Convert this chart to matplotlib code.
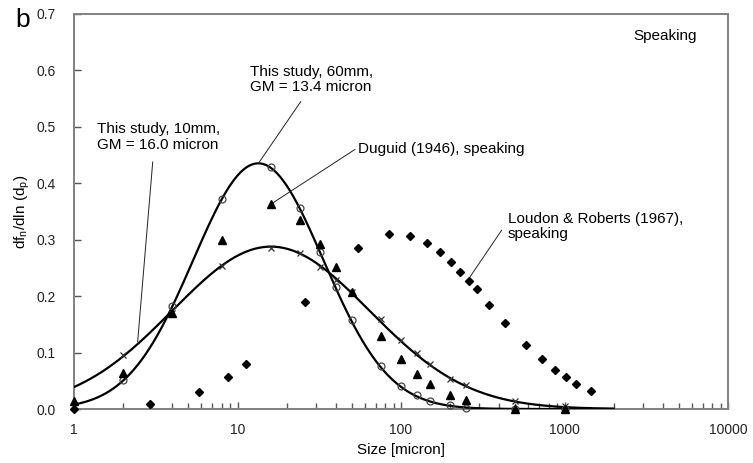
import numpy as np
import matplotlib
matplotlib.use("Agg")
import matplotlib.pyplot as plt
from matplotlib.ticker import FixedLocator, LogLocator, NullFormatter

plt.rcParams['font.family'] = ['Liberation Sans', 'DejaVu Sans']
plt.rcParams['mathtext.fontset'] = 'custom'
plt.rcParams['mathtext.rm'] = 'Liberation Sans'

# bin sizes (micron) and measured distributions, this study
size_study = [2, 4, 8, 16, 24, 32, 40, 50, 75, 100, 125, 150, 200, 250, 500, 1000]
study_10mm = [0.095, 0.170, 0.253, 0.286, 0.276, 0.251, 0.229, 0.207, 0.159,
              0.122, 0.099, 0.079, 0.054, 0.043, 0.015, 0.006]
study_60mm = [0.051, 0.182, 0.372, 0.429, 0.357, 0.279, 0.216, 0.158, 0.076,
              0.041, 0.025, 0.014, 0.007, 0.002, 0.0, 0.0]

# Duguid (1946)
size_duguid = [1, 2, 4, 8, 16, 24, 32, 40, 50, 75, 100, 125, 150, 200, 250, 500, 1000]
duguid = [0.015, 0.063, 0.170, 0.300, 0.363, 0.335, 0.292, 0.251, 0.207, 0.129,
          0.088, 0.062, 0.044, 0.025, 0.016, 0.0, 0.0]

# Loudon & Roberts (1967)
size_loudon = [1, 2.9, 5.8, 8.7, 11.2, 25.9, 54.8, 84.5, 114, 144, 173, 201, 230,
               259, 290, 347, 434, 579, 731, 875, 1021, 1170, 1452]
loudon = [0.0, 0.009, 0.030, 0.056, 0.079, 0.189, 0.286, 0.310, 0.307, 0.295, 0.278,
          0.260, 0.243, 0.227, 0.213, 0.184, 0.153, 0.113, 0.088, 0.069, 0.056,
          0.045, 0.032]

# lognormal fits: geometric mean and geometric std dev
gm_10mm, gsd_10mm = 16.0, 4.0
gm_60mm, gsd_60mm = 13.4, 2.5


def lognormal(d, gm, gsd):
    ls = np.log(gsd)
    return np.exp(-(np.log(d / gm)) ** 2 / (2 * ls ** 2)) / (np.sqrt(2 * np.pi) * ls)


fig = plt.figure(figsize=(7.53, 4.63), dpi=100)
ax = fig.add_axes([0.0983, 0.1166, 0.8685, 0.8532])

d = np.logspace(0, np.log10(2000), 400)
ax.plot(d, lognormal(d, gm_10mm, gsd_10mm), color='black', lw=1.6, zorder=3)
ax.plot(d, lognormal(d, gm_60mm, gsd_60mm), color='black', lw=1.6, zorder=3)

ax.plot(size_study, study_10mm, ls='none', marker='x', ms=5, mec='#333333',
        mew=0.9, clip_on=False, zorder=4)
ax.plot(size_study, study_60mm, ls='none', marker='o', ms=5, mfc='none',
        mec='#444444', mew=0.9, clip_on=False, zorder=4)
ax.plot(size_duguid, duguid, ls='none', marker='^', ms=6, color='black',
        clip_on=False, zorder=5)
ax.plot(size_loudon, loudon, ls='none', marker='D', ms=4.3, color='black',
        clip_on=False, zorder=5)

ax.set_xscale('log')
ax.set_xlim(1, 10000)
ax.set_ylim(0, 0.7)
ax.yaxis.set_major_locator(FixedLocator(np.arange(0, 0.71, 0.1)))
ax.set_yticklabels(['%.1f' % v for v in np.arange(0, 0.71, 0.1)])
ax.xaxis.set_major_locator(FixedLocator([1, 10, 100, 1000, 10000]))
ax.set_xticklabels(['1', '10', '100', '1000', '10000'])
ax.xaxis.set_minor_locator(LogLocator(base=10, subs=np.arange(2, 10)))
ax.xaxis.set_minor_formatter(NullFormatter())

ax.tick_params(axis='both', which='both', direction='in', color='#555555',
               labelsize=10, labelcolor='#222222', top=False, right=False)
ax.tick_params(axis='both', which='major', length=5, width=1)
ax.tick_params(axis='x', which='minor', length=4, width=1)
ax.tick_params(axis='y', which='major', pad=13)
ax.tick_params(axis='x', which='major', pad=10)

for sp in ax.spines.values():
    sp.set_color('#808080')
    sp.set_linewidth(1.4)

ax.set_xlabel('Size [micron]', fontsize=11)
ax.set_ylabel(r'df$_\mathregular{n}$/dln (d$_\mathregular{p}$)', fontsize=11)
ax.xaxis.set_label_coords(0.5, -0.086)
ax.yaxis.set_label_coords(-0.064, 0.5)

line = dict(arrowstyle='-', color='#222222', lw=0.7, shrinkA=0, shrinkB=0)
ax.text(1.377, 0.482, 'This study, 10mm,\nGM = 16.0 micron', fontsize=11,
        ha='left', va='center', linespacing=1.1)
ax.annotate('', xy=(2.45, 0.119), xytext=(3.03, 0.438), arrowprops=line)
ax.text(11.9, 0.584, 'This study, 60mm,\nGM = 13.4 micron', fontsize=11,
        ha='left', va='center', linespacing=1.1)
ax.annotate('', xy=(13.4, 0.435), xytext=(24.4, 0.545), arrowprops=line)
ax.text(54.8, 0.46, 'Duguid (1946), speaking', fontsize=11,
        ha='left', va='center')
ax.annotate('', xy=(16, 0.363), xytext=(52.3, 0.46), arrowprops=line)
ax.text(451, 0.324, 'Loudon & Roberts (1967),\nspeaking', fontsize=11,
        ha='left', va='center', linespacing=1.1)
ax.annotate('', xy=(264, 0.234), xytext=(413, 0.317), arrowprops=line)

ax.text(2624, 0.6615, 'Speaking', fontsize=11, ha='left', va='center')
fig.text(0.02, 0.957, 'b', fontsize=19, ha='left', va='center')

fig.savefig('out.png', dpi=100)
